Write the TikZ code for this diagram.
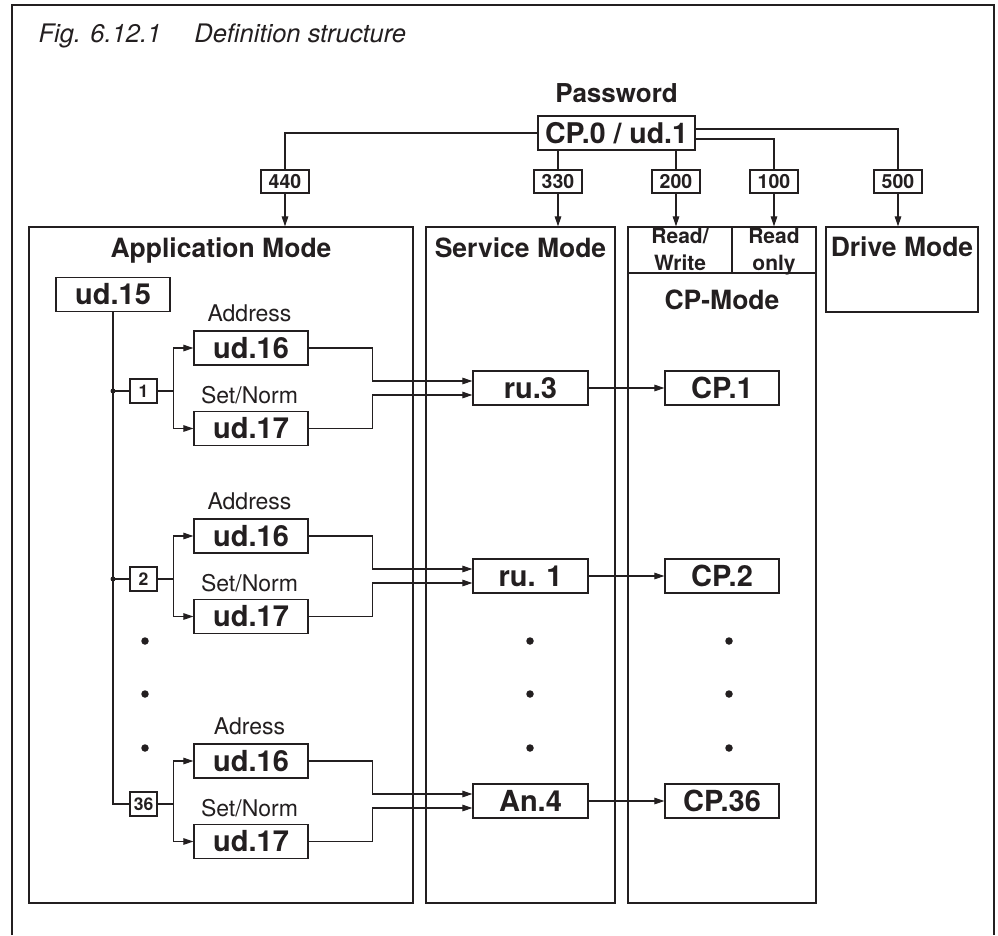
\documentclass[tikz,border=0pt]{standalone}
\usepackage{fontspec}
\setmainfont{TeX Gyre Heros}
\usetikzlibrary{arrows.meta,calc}
\definecolor{ink}{RGB}{35,31,32}
\begin{document}
\begin{tikzpicture}[x=1pt,y=-1pt,color=ink,line width=1.1pt,
  box/.style={draw, line width=1.2pt, inner sep=0pt, minimum width=114pt, minimum height=34pt, font=\fontsize{29}{29}\selectfont\bfseries},
  tag/.style={draw, line width=1.1pt, inner sep=0pt, minimum width=48pt, minimum height=23pt, font=\fontsize{19.5}{19.5}\selectfont\bfseries},
  numtag/.style={tag, minimum width=27pt, minimum height=24pt, font=\fontsize{17.5}{17.5}\selectfont\bfseries},
  panel/.style={draw, line width=1.2pt, inner sep=0pt},
  ptitle/.style={font=\fontsize{26.5}{26.5}\selectfont\bfseries, anchor=base, inner sep=0pt},
  rwtitle/.style={font=\fontsize{21}{21}\selectfont\bfseries, anchor=base, inner sep=0pt},
  lab/.style={font=\fontsize{23}{23}\selectfont, anchor=base, inner sep=0pt},
  arr/.style={-{Triangle[length=10pt,width=6.5pt]}},
  dotc/.style={circle, fill, inner sep=0pt, minimum size=7.5pt},
  jdot/.style={circle, fill, inner sep=0pt, minimum size=5pt},
]
\useasboundingbox (0,0) rectangle (998,935);
\fill[white] (0,0) rectangle (998,935);
% outer frame
\coordinate (f1) at (12,935);
\coordinate (f2) at (12,5);
\coordinate (f3) at (994,5);
\coordinate (f4) at (994,935);
\draw[line width=2.2pt] (f1) -- (f2) -- (f3) -- (f4);
% title
\node[font=\fontsize{25.5}{25.5}\selectfont\itshape, anchor=base west, inner sep=0pt] (title) at (38,42) {Fig. 6.12.1\hspace{33pt}Definition structure};
% password
\node[font=\fontsize{26}{26}\selectfont\bfseries, anchor=base, inner sep=0pt] (pwl) at (616.5,102) {Password};
\node[box, minimum width=157pt, font=\fontsize{28.5}{28.5}\selectfont\bfseries] (pw) at (616.5,133) {CP.0 / ud.1};
% tags
\node[tag] (t440) at (285,181.5) {440};
\node[tag] (t330) at (558,181.5) {330};
\node[tag] (t200) at (676,181.5) {200};
\node[tag] (t100) at (774,181.5) {100};
\node[tag] (t500) at (898,181.5) {500};
% panels
\node[panel, minimum width=384pt, minimum height=676pt] (app) at (221,565) {};
\node[panel, minimum width=189pt, minimum height=676pt] (svc) at (520.5,565) {};
\node[panel, minimum width=188pt, minimum height=676pt] (cpm) at (722,565) {};
\node[panel, minimum width=152pt, minimum height=85pt] (drv) at (902,269.5) {};
% connectors from password
\draw (pw.west) -| (t440.north);
\draw[arr] (t440.south) -- (t440.south |- app.north);
\draw (pw.south -| t330) -- (t330.north);
\draw[arr] (t330.south) -- (t330.south |- svc.north);
\draw (pw.south -| t200) -- (t200.north);
\draw[arr] (t200.south) -- (t200.south |- cpm.north);
\draw ([yshift=-6pt]pw.east) -| (t100.north);
\draw[arr] (t100.south) -- (t100.south |- cpm.north);
\draw ([yshift=4pt]pw.east) -| (t500.north);
\draw[arr] (t500.south) -- (t500.south |- drv.north);
% CP header dividers
\coordinate (hl) at (628,273);
\coordinate (hv) at (732,273);
\draw[line width=1.2pt] (cpm.west |- hl) -- (cpm.east |- hl);
\draw[line width=1.2pt] (hv) -- (hv |- cpm.north);
% panel titles
\node[ptitle] (tapp) at (221,257) {Application Mode};
\node[ptitle] (tsvc) at (520.5,257) {Service Mode};
\node[ptitle] (tdrv) at (902,256) {Drive Mode};
\node[ptitle] (tcp) at (722,309) {CP-Mode};
\node[rwtitle] (rw1) at (680,243) {Read/};
\node[rwtitle] (rw2) at (680,270) {Write};
\node[rwtitle] (ro1) at (774,243) {Read};
\node[rwtitle] (ro2) at (774,270) {only};
% ud.15
\node[box] (u15) at (113,294.5) {ud.15};
% rows
\foreach \o/\n/\r/\c/\a [count=\i] in {0/1/ru.3/CP.1/Address, 188/2/ru. 1/CP.2/Address, 413/36/An.4/CP.36/Adress}{
  \node[lab] (a\i) at (249.5,321+\o) {\a};
  \node[box] (p\i) at (251,348+\o) {ud.16};
  \node[lab] (s\i) at (249.5,403+\o) {Set/Norm};
  \node[box] (q\i) at (251,428.5+\o) {ud.17};
  \node[numtag] (n\i) at (143.5,391+\o) {\n};
  \node[box, minimum width=115pt] (r\i) at (530.5,388+\o) {\r};
  \node[box] (c\i) at (722,388+\o) {\c};
  \draw (n\i.east) -- ++(16,0) coordinate (sp\i);
  \draw[arr] (sp\i) |- (p\i.west);
  \draw[arr] (sp\i) |- (q\i.west);
  \draw[arr] (p\i.east) -- ++(64,0) |- ([yshift=7pt]r\i.west);
  \draw[arr] (q\i.east) -- ++(64,0) |- ([yshift=-7pt]r\i.west);
  \draw[arr] (r\i.east) -- (c\i.west);
}
% ud.15 trunk
\draw (u15.south) |- (n3.west);
\draw (u15.south |- n1.west) -- (n1.west);
\draw (u15.south |- n2.west) -- (n2.west);
\node[jdot] (j1) at (u15.south |- n1.west) {};
\node[jdot] (j2) at (u15.south |- n2.west) {};
% ellipsis dots
\foreach \y [count=\k] in {641,694,748}{
  \node[dotc] (da\k) at (145,\y) {};
  \node[dotc] (ds\k) at (530,\y) {};
  \node[dotc] (dc\k) at (729,\y) {};
}
\end{tikzpicture}
\end{document}
